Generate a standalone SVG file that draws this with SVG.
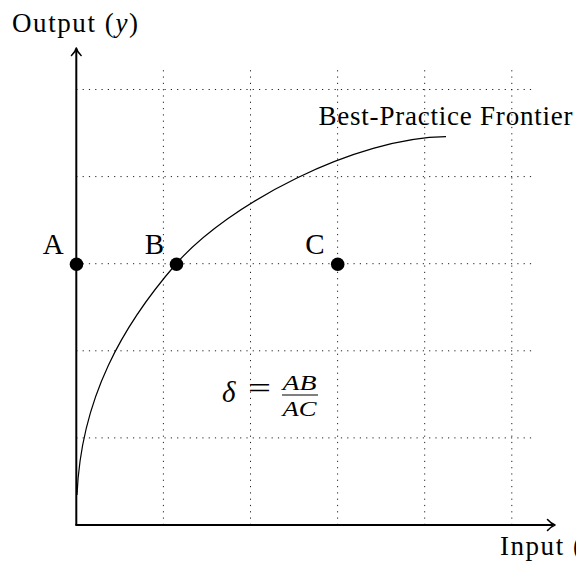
<svg xmlns="http://www.w3.org/2000/svg" width="576" height="567" viewBox="0 0 576 567">
<style>
.grid{stroke:#222;stroke-width:1;stroke-dasharray:1.2 5.1;fill:none}
.axis{stroke:#000;stroke-width:2;fill:none}
.tip{stroke:#000;stroke-width:1.6;fill:none;stroke-linecap:round;stroke-linejoin:round}
.curve{stroke:#000;stroke-width:1.2;fill:none}
.dot{fill:#000}
.t{font-family:"Liberation Serif","Times New Roman",serif;fill:#000}
.m{font-family:"Liberation Serif","Times New Roman",serif;font-style:italic;fill:#000}
</style>
<rect width="576" height="567" fill="#fff"/>
<g id="grid">
<path class="grid" d="M163.4,525V68M250.5,525V68M337.6,525V68M424.7,525V68M511.8,525V68"/>
<path class="grid" d="M76.3,437.9H534M76.3,350.8H534M76.3,263.7H534M76.3,176.6H534M76.3,89.5H534"/>
</g>
<g id="connectors">
<g id="y-axis">
<path class="axis" d="M76.3,525V49"/>
<path class="tip" d="M71.5,55.5Q75.5,52 76.3,48Q77.1,52 81.1,55.5"/>
</g>
<g id="x-axis">
<path class="axis" d="M75.3,525H553"/>
<path class="tip" d="M547.5,519.5Q551,523.5 555,525Q551,526.5 547.5,530.5"/>
</g>
<path id="frontier" class="curve" d="M77,495 C81,397 123.5,324.4 176,264 C228.5,203.6 356,137.5 446,136.7"/>
</g>
<g id="node-A">
<circle class="dot" cx="76.5" cy="264.2" r="6.8"/>
<text class="t" x="53.3" y="253.5" font-size="29" text-anchor="middle">A</text>
</g>
<g id="node-B">
<circle class="dot" cx="176.5" cy="264.2" r="6.8"/>
<text class="t" x="154.3" y="253.5" font-size="29" text-anchor="middle">B</text>
</g>
<g id="node-C">
<circle class="dot" cx="337.7" cy="264.2" r="6.8"/>
<text class="t" x="315" y="253.5" font-size="29" text-anchor="middle">C</text>
</g>
<g id="label-frontier">
<text class="t" x="318.5" y="125" font-size="27" textLength="254">Best-Practice Frontier</text>
</g>
<g id="label-output">
<text class="t" x="12" y="32" font-size="27" textLength="126">Output (<tspan font-style="italic">y</tspan>)</text>
</g>
<g id="label-input">
<text class="t" x="500" y="555" font-size="27" textLength="106">Input (<tspan font-style="italic">x</tspan>)</text>
</g>
<g id="formula">
<text class="m" x="222" y="401.7" font-size="29">δ</text>
<text class="t" x="248" y="398" font-size="30" textLength="23" lengthAdjust="spacingAndGlyphs">=</text>
<text class="m" x="282.5" y="389.5" font-size="22" textLength="34" lengthAdjust="spacingAndGlyphs">AB</text>
<line x1="282" y1="395" x2="318" y2="395" stroke="#000" stroke-width="1.1"/>
<text class="m" x="282.5" y="416" font-size="22" textLength="34" lengthAdjust="spacingAndGlyphs">AC</text>
</g>
</svg>
